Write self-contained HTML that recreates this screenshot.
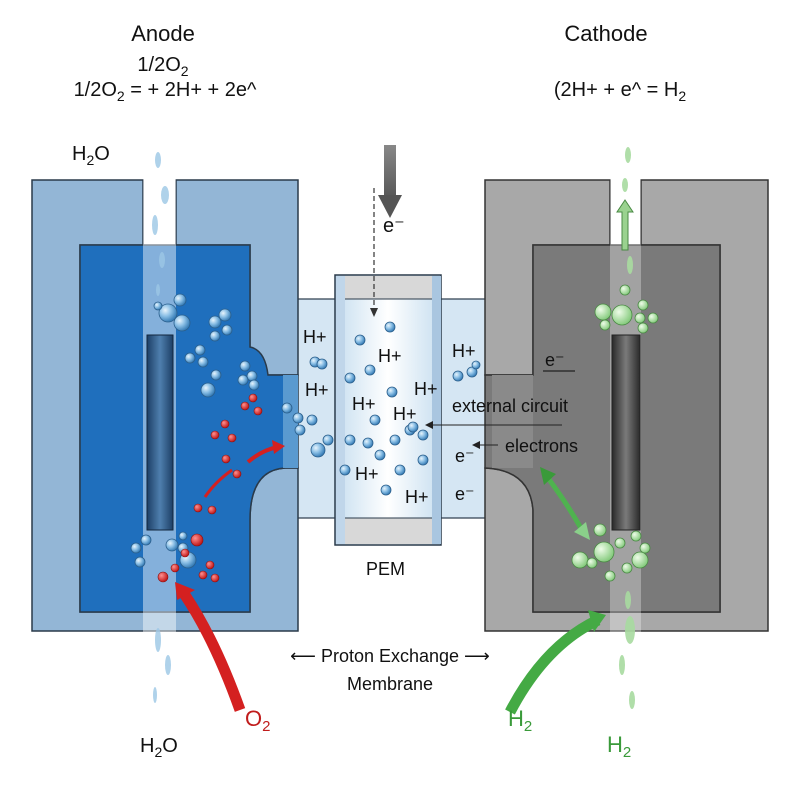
<!DOCTYPE html>
<html><head><meta charset="utf-8"><style>
html,body{margin:0;padding:0;background:#fff}
svg{display:block}
text{font-family:"Liberation Sans",sans-serif;fill:#111}
</style></head><body>
<svg width="800" height="800" viewBox="0 0 800 800" xmlns="http://www.w3.org/2000/svg">
<defs>
<radialGradient id="bb" cx="35%" cy="35%" r="65%"><stop offset="0" stop-color="#e8f4fc"/><stop offset="0.5" stop-color="#8cc0e6"/><stop offset="1" stop-color="#3a7fb8"/></radialGradient>
<radialGradient id="rb" cx="35%" cy="35%" r="65%"><stop offset="0" stop-color="#ff9090"/><stop offset="1" stop-color="#c01818"/></radialGradient>
<radialGradient id="gb" cx="35%" cy="35%" r="65%"><stop offset="0" stop-color="#eefce8"/><stop offset="1" stop-color="#88cc80"/></radialGradient>
<linearGradient id="eb" x1="0" x2="1"><stop offset="0" stop-color="#1c3f66"/><stop offset="0.5" stop-color="#4f7fae"/><stop offset="1" stop-color="#1c3f66"/></linearGradient>
<linearGradient id="eg" x1="0" x2="1"><stop offset="0" stop-color="#2a2a2a"/><stop offset="0.5" stop-color="#7a7a7a"/><stop offset="1" stop-color="#2a2a2a"/></linearGradient>
<linearGradient id="pem" x1="0" x2="1"><stop offset="0" stop-color="#c8dff0"/><stop offset="0.5" stop-color="#ffffff"/><stop offset="1" stop-color="#c8dff0"/></linearGradient>
<linearGradient id="gy" x1="0" x2="0" y1="0" y2="1"><stop offset="0" stop-color="#888"/><stop offset="1" stop-color="#555"/></linearGradient>
</defs>

<!-- channels -->
<rect x="285" y="299" width="60" height="219" fill="#d5e6f3" stroke="#2a3a4a" stroke-width="1.2"/>
<rect x="432" y="299" width="60" height="219" fill="#d5e6f3" stroke="#2a3a4a" stroke-width="1.2"/>

<!-- anode -->
<path d="M32 180 H143 V245 H80 V612 H250 V520 Q250 470 285 468 H298 V631 H32 Z" fill="#93b6d6" stroke="#2a3a4a" stroke-width="1.5"/>
<path d="M176 180 H298 V375 H268 Q255 350 250 347 V245 H176 Z" fill="#93b6d6" stroke="#2a3a4a" stroke-width="1.5"/>
<path d="M80 245 H250 V347 Q265 350 268 375 H298 V468 H285 Q250 470 250 520 V612 H80 Z" fill="#1f6fbd" stroke="#2a3a4a" stroke-width="1.5"/>
<rect x="283" y="375" width="15" height="93" fill="#5a9ad0"/>
<rect x="143" y="150" width="33" height="520" fill="#ffffff" opacity="0.45"/>
<rect x="147" y="335" width="26" height="195" fill="url(#eb)" stroke="#12263e"/>

<!-- cathode -->
<path d="M485 180 H610 V245 H533 V375 H485 Z" fill="#a8a8a8" stroke="#333" stroke-width="1.5"/>
<path d="M641 180 H768 V631 H485 V468 Q530 470 533 510 V612 H720 V245 H641 Z" fill="#a8a8a8" stroke="#333" stroke-width="1.5"/>
<path d="M533 245 H720 V612 H533 V510 Q530 470 485 468 V375 H533 Z" fill="#7a7a7a" stroke="#333" stroke-width="1.5"/>
<rect x="492" y="375" width="41" height="93" fill="#8a8a8a"/>
<rect x="610" y="150" width="31" height="520" fill="#ffffff" opacity="0.3"/>
<rect x="612" y="335" width="28" height="195" fill="url(#eg)" stroke="#222"/>

<!-- PEM -->
<rect x="335" y="275" width="106" height="270" fill="url(#pem)" stroke="#2a3a4a" stroke-width="1.5"/>
<rect x="345" y="276" width="87" height="23" fill="#d8d8d8"/>
<rect x="345" y="518" width="87" height="26" fill="#d8d8d8"/>
<line x1="345" y1="299" x2="432" y2="299" stroke="#2a3a4a"/>
<line x1="345" y1="518" x2="432" y2="518" stroke="#2a3a4a"/>
<rect x="432" y="276" width="9" height="268" fill="#a9c6e0"/>
<rect x="336" y="276" width="9" height="268" fill="#c0d6ea"/>

<!-- water drops -->
<g fill="#9cc7e6" opacity="0.8">
<ellipse cx="158" cy="160" rx="3" ry="8"/><ellipse cx="165" cy="195" rx="4" ry="9"/><ellipse cx="155" cy="225" rx="3" ry="10"/><ellipse cx="162" cy="260" rx="3" ry="8"/><ellipse cx="158" cy="290" rx="2" ry="6"/>
<ellipse cx="158" cy="640" rx="3" ry="12"/><ellipse cx="168" cy="665" rx="3" ry="10"/><ellipse cx="155" cy="695" rx="2" ry="8"/>
</g>
<g fill="#a8dba0" opacity="0.9">
<ellipse cx="628" cy="155" rx="3" ry="8"/><ellipse cx="625" cy="185" rx="3" ry="7"/><ellipse cx="630" cy="265" rx="3" ry="9"/>
<ellipse cx="628" cy="600" rx="3" ry="9"/><ellipse cx="630" cy="630" rx="5" ry="14"/><ellipse cx="622" cy="665" rx="3" ry="10"/><ellipse cx="632" cy="700" rx="3" ry="9"/>
</g>
<path d="M622 230 V212 H617 L625 200 L633 212 H628 V250 H622 Z" fill="#9ad28f" stroke="#4a8a44"/>

<!-- blue bubbles -->
<g fill="url(#bb)" stroke="#2b5f8c" stroke-width="0.8">
<circle cx="180" cy="300" r="6"/><circle cx="168" cy="313" r="9"/><circle cx="182" cy="323" r="8"/><circle cx="158" cy="306" r="4"/>
<circle cx="215" cy="322" r="6"/><circle cx="225" cy="315" r="6"/><circle cx="215" cy="336" r="5"/><circle cx="227" cy="330" r="5"/>
<circle cx="200" cy="350" r="5"/><circle cx="190" cy="358" r="5"/><circle cx="203" cy="362" r="5"/><circle cx="216" cy="375" r="5"/><circle cx="208" cy="390" r="7"/>
<circle cx="245" cy="366" r="5"/><circle cx="252" cy="376" r="5"/><circle cx="243" cy="380" r="5"/><circle cx="254" cy="385" r="5"/>
<circle cx="287" cy="408" r="5"/><circle cx="298" cy="418" r="5"/><circle cx="312" cy="420" r="5"/><circle cx="300" cy="430" r="5"/><circle cx="318" cy="450" r="7"/><circle cx="328" cy="440" r="5"/>
<circle cx="315" cy="362" r="5"/><circle cx="322" cy="364" r="5"/>
<circle cx="136" cy="548" r="5"/><circle cx="146" cy="540" r="5"/><circle cx="140" cy="562" r="5"/><circle cx="172" cy="545" r="6"/><circle cx="183" cy="548" r="5"/><circle cx="188" cy="560" r="8"/><circle cx="183" cy="536" r="4"/>
<circle cx="390" cy="327" r="5"/><circle cx="360" cy="340" r="5"/><circle cx="350" cy="378" r="5"/><circle cx="370" cy="370" r="5"/><circle cx="392" cy="392" r="5"/><circle cx="375" cy="420" r="5"/><circle cx="350" cy="440" r="5"/><circle cx="368" cy="443" r="5"/><circle cx="395" cy="440" r="5"/><circle cx="410" cy="430" r="5"/><circle cx="423" cy="460" r="5"/><circle cx="386" cy="490" r="5"/><circle cx="400" cy="470" r="5"/><circle cx="380" cy="455" r="5"/><circle cx="345" cy="470" r="5"/>
<circle cx="458" cy="376" r="5"/><circle cx="472" cy="372" r="5"/><circle cx="476" cy="365" r="4"/><circle cx="413" cy="427" r="5"/><circle cx="423" cy="435" r="5"/>
</g>
<!-- red -->
<g fill="url(#rb)" stroke="#8a1010" stroke-width="0.6">
<circle cx="253" cy="398" r="4"/><circle cx="245" cy="406" r="4"/><circle cx="258" cy="411" r="4"/>
<circle cx="225" cy="424" r="4"/><circle cx="215" cy="435" r="4"/><circle cx="232" cy="438" r="4"/>
<circle cx="226" cy="459" r="4"/><circle cx="237" cy="474" r="4"/>
<circle cx="198" cy="508" r="4"/><circle cx="212" cy="510" r="4"/>
<circle cx="197" cy="540" r="6"/><circle cx="185" cy="553" r="4"/><circle cx="175" cy="568" r="4"/><circle cx="163" cy="577" r="5"/><circle cx="210" cy="565" r="4"/><circle cx="203" cy="575" r="4"/><circle cx="215" cy="578" r="4"/>
</g>
<!-- green -->
<g fill="url(#gb)" stroke="#4a8a44" stroke-width="0.8">
<circle cx="625" cy="290" r="5"/><circle cx="603" cy="312" r="8"/><circle cx="622" cy="315" r="10"/><circle cx="643" cy="305" r="5"/><circle cx="640" cy="318" r="5"/><circle cx="653" cy="318" r="5"/><circle cx="643" cy="328" r="5"/><circle cx="605" cy="325" r="5"/>
<circle cx="600" cy="530" r="6"/><circle cx="604" cy="552" r="10"/><circle cx="580" cy="560" r="8"/><circle cx="592" cy="563" r="5"/><circle cx="620" cy="543" r="5"/><circle cx="636" cy="536" r="5"/><circle cx="645" cy="548" r="5"/><circle cx="640" cy="560" r="8"/><circle cx="627" cy="568" r="5"/><circle cx="610" cy="576" r="5"/>
</g>

<!-- arrows -->
<rect x="384" y="145" width="12" height="55" fill="url(#gy)"/>
<polygon points="378,195 402,195 390,218" fill="#555"/>
<line x1="374" y1="188" x2="374" y2="312" stroke="#333" stroke-width="1.2" stroke-dasharray="5,3"/>
<polygon points="370,308 378,308 374,317" fill="#333"/>
<path d="M240 710 Q215 640 185 595" stroke="#d42020" stroke-width="11" fill="none"/>
<polygon points="175,582 195,590 177,600" fill="#d42020"/>
<path d="M248 462 Q262 450 278 447" stroke="#d42020" stroke-width="4" fill="none"/>
<polygon points="285,446 272,440 274,454" fill="#d42020"/>
<path d="M232 470 Q215 482 205 497" stroke="#d42020" stroke-width="3" fill="none"/>
<path d="M510 712 Q545 645 598 620" stroke="#44aa44" stroke-width="11" fill="none"/>
<polygon points="606,615 588,610 594,632" fill="#44aa44"/>
<path d="M548 478 Q568 505 582 530" stroke="#4fb24f" stroke-width="5" fill="none"/>
<polygon points="540,467 556,474 544,485" fill="#3a9a3a"/>
<polygon points="590,540 574,532 586,522" fill="#8ad08a"/>
<line x1="427" y1="425" x2="562" y2="425" stroke="#222" stroke-width="1"/>
<polygon points="425,425 433,421 433,429" fill="#222"/>
<line x1="474" y1="445" x2="498" y2="445" stroke="#222" stroke-width="1"/>
<polygon points="472,445 480,441 480,449" fill="#222"/>
<line x1="543" y1="371" x2="575" y2="371" stroke="#222" stroke-width="1.2"/>

<!-- text -->
<text x="163" y="41" font-size="22" text-anchor="middle">Anode</text>
<text x="163" y="71" font-size="20" text-anchor="middle">1/2O<tspan font-size="14" dy="5">2</tspan></text>
<text x="165" y="96" font-size="20" text-anchor="middle">1/2O<tspan font-size="14" dy="5">2</tspan><tspan dy="-5"> = + 2H+ + 2e^</tspan></text>
<text x="606" y="41" font-size="22" text-anchor="middle">Cathode</text>
<text x="620" y="96" font-size="20" text-anchor="middle">(2H+ + e^ = H<tspan font-size="14" dy="5">2</tspan></text>
<text x="72" y="160" font-size="20">H<tspan font-size="14" dy="5">2</tspan><tspan dy="-5">O</tspan></text>
<text x="383" y="232" font-size="20">e⁻</text>
<g font-size="18">
<text x="303" y="343">H+</text><text x="305" y="396">H+</text><text x="378" y="362">H+</text><text x="352" y="410">H+</text><text x="393" y="420">H+</text><text x="414" y="395">H+</text><text x="355" y="480">H+</text><text x="405" y="503">H+</text><text x="452" y="357">H+</text>
<text x="455" y="462">e⁻</text><text x="455" y="500">e⁻</text><text x="545" y="366">e⁻</text>
<text x="452" y="412">external circuit</text>
<text x="505" y="452">electrons</text>
<text x="366" y="575">PEM</text>
<text x="390" y="662" text-anchor="middle">⟵ Proton Exchange ⟶</text>
<text x="390" y="690" text-anchor="middle">Membrane</text>
</g>
<text x="245" y="726" font-size="22" style="fill:#c01c1c">O<tspan font-size="15" dy="5">2</tspan></text>
<text x="140" y="752" font-size="20">H<tspan font-size="14" dy="5">2</tspan><tspan dy="-5">O</tspan></text>
<text x="508" y="726" font-size="22" style="fill:#3a9a3a">H<tspan font-size="15" dy="5">2</tspan></text>
<text x="607" y="752" font-size="22" style="fill:#3a9a3a">H<tspan font-size="15" dy="5">2</tspan></text>
</svg>
</body></html>
